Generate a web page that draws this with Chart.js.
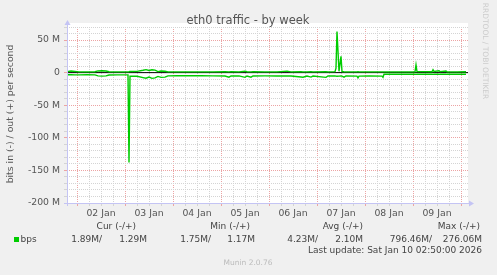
<!DOCTYPE html>
<html lang="en">
<head>
<meta charset="UTF-8">
<title>eth0 traffic - by week</title>
<style>
  html, body { margin: 0; padding: 0; background: #f0f0f0; }
  canvas { display: block; }
</style>
</head>
<body>
<canvas id="chart" width="497" height="275"></canvas>
<script src="https://cdn.jsdelivr.net/npm/chart.js"></script>
<script>
// hours counted from 01 Jan 00:00, values in M bits per second
var hours = [19, 21, 23, 25, 29, 33, 34.5, 36.5, 38.5, 40, 44, 49.5, 50, 50.5, 54,
  57, 58.5, 60, 61.5, 63, 64.5, 66, 68, 69.5, 74, 80, 86, 92, 98, 100, 101, 105,
  108, 109, 111, 112, 118, 124, 129, 131, 136, 137, 139, 141, 142, 148.5, 149.5,
  153, 153.5, 154, 155, 156, 156.5, 157.5, 158.5, 164, 164.5, 165, 170, 176.5,
  177, 177.5, 184, 190, 193, 193.5, 194, 198, 201.5, 202, 202.5, 205, 205.5,
  208.5, 209, 214, 218.5];
var outM = [1.6, 2.6, 2.0, 1.1, 1.2, 1.3, 2.6, 2.9, 2.4, 1.3, 1.2, 1.2, 1.3, 1.8, 1.9,
  3.6, 4.6, 3.2, 4.4, 3.8, 1.6, 2.5, 2.1, 1.2, 1.1, 1.2, 1.1, 1.2, 1.3, 1.2, 1.3, 1.2,
  2.2, 1.3, 1.2, 1.3, 1.2, 1.1, 2.3, 1.2, 1.3, 1.2, 1.2, 1.3, 1.2, 1.3, 1.2,
  1.5, 7, 63, 2.0, 25, 1.6, 1.3, 1.2, 1.2, 1.3, 1.2, 1.2, 1.2,
  1.2, 1.2, 1.1, 1.2, 1.3, 12, 1.5, 1.6, 1.4, 4.5, 1.8, 2.8, 1.6,
  2.5, 1.4, 1.2, 1.3];
var inM = [-3.2, -3.3, -3.4, -3.4, -3.3, -3.5, -5.0, -5.3, -4.9, -3.6, -3.4, -3.4, -138, -5.6, -5.5,
  -7.6, -8.6, -6.8, -8.8, -8.0, -5.8, -7.3, -6.9, -5.0, -4.8, -4.9, -4.8, -5.0, -5.1, -6.9, -5.1, -5.0,
  -7.2, -5.2, -7.0, -5.1, -5.0, -5.2, -5.0, -5.1, -6.6, -7.0, -5.3, -6.8, -5.2, -7.2, -5.2,
  -5.2, -5.3, -5.5, -5.3, -5.2, -5.4, -7.0, -5.2, -5.3, -8.0, -5.3, -5.2, -5.3,
  -7.2, -2.6, -2.6, -2.5, -2.6, -2.7, -2.6, -2.6, -2.6, -2.7, -2.6, -2.5, -2.6,
  -2.6, -2.5, -2.6, -2.6];

var dayLabels = ['02 Jan', '03 Jan', '04 Jan', '05 Jan', '06 Jan', '07 Jan', '08 Jan', '09 Jan'];
var legendHeaders = ['Cur (-/+)', 'Min (-/+)', 'Avg (-/+)', 'Max (-/+)'];
var legendIn = ['1.89M', '1.75M', '4.23M', '796.46M'];
var legendOut = ['1.29M', '1.17M', '2.10M', '276.06M'];

var GREEN = '#00cc00';
var FONT = 'DejaVu Sans';
var RED_GRID = '#eca4a4';
var GRAY_GRID = '#d4d4d4';
var AXIS = '#c4c4f4';

function pts(ys) {
  return hours.map(function (h, i) { return { x: h, y: ys[i] }; });
}

var munin = {
  id: 'munin',
  beforeDraw: function (chart) {
    var c = chart.ctx, a = chart.chartArea;
    c.save();
    c.fillStyle = '#f0f0f0';
    c.fillRect(0, 0, chart.width, chart.height);
    c.fillStyle = '#ffffff';
    c.fillRect(a.left, a.top - 4, a.right - a.left, a.bottom - a.top + 4);
    c.restore();
  },
  afterDraw: function (chart) {
    var c = chart.ctx, a = chart.chartArea;
    c.save();
    // solid axis lines with arrows
    c.strokeStyle = AXIS;
    c.lineWidth = 1;
    c.beginPath();
    c.moveTo(a.left + 0.5, a.top - 3); c.lineTo(a.left + 0.5, a.bottom + 3);
    c.moveTo(a.left - 3, a.bottom + 0.5); c.lineTo(a.right + 2, a.bottom + 0.5);
    c.stroke();
    c.fillStyle = AXIS;
    c.beginPath();
    c.moveTo(a.left + 0.5, a.top - 7); c.lineTo(a.left - 2.5, a.top - 2); c.lineTo(a.left + 3.5, a.top - 2);
    c.fill();
    c.beginPath();
    c.moveTo(a.right + 6, a.bottom + 0.5); c.lineTo(a.right + 1, a.bottom - 2.5); c.lineTo(a.right + 1, a.bottom + 3.5);
    c.fill();

    c.fillStyle = '#555';
    c.textBaseline = 'middle';
    c.font = '11.5px "' + FONT + '"';
    c.textAlign = 'center';
    c.fillText('eth0 traffic - by week', 248, 21);

    c.font = '9.3px "' + FONT + '"';
    c.save();
    c.translate(11, 114);
    c.rotate(-Math.PI / 2);
    c.fillText('bits in (-) / out (+) per second', 0, 0);
    c.restore();

    c.font = '9px "' + FONT + '"';
    var hdrX = [136, 250, 363, 480];
    var inX = [102, 211, 318, 432];
    var outX = [147, 255, 363, 482];
    c.textAlign = 'right';
    c.fillStyle = '#444';
    for (var i = 0; i < 4; i++) {
      c.fillText(legendHeaders[i], hdrX[i], 227);
      c.fillText(legendIn[i] + '/', inX[i], 239.5);
      c.fillText(legendOut[i], outX[i], 239.5);
    }
    c.fillText('Last update: Sat Jan 10 02:50:00 2026', 482, 251);
    c.textAlign = 'left';
    c.fillText('bps', 20.5, 239.5);
    c.fillStyle = GREEN;
    c.fillRect(14, 237, 5, 5);

    c.fillStyle = '#bbb';
    c.textAlign = 'center';
    c.font = '7.5px "' + FONT + '"';
    c.fillText('Munin 2.0.76', 248, 263);

    c.fillStyle = '#ccc';
    c.save();
    c.translate(485, 51);
    c.rotate(Math.PI / 2);
    c.fillText('RRDTOOL / TOBI OETIKER', 0, 0);
    c.restore();
    c.restore();
  }
};

new Chart(document.getElementById('chart'), {
  type: 'line',
  data: {
    datasets: [
      { label: 'out', data: pts(outM), borderColor: GREEN, borderWidth: 1.4, pointRadius: 0, tension: 0, order: 1 },
      { label: 'in', data: pts(inM), borderColor: GREEN, borderWidth: 1.4, pointRadius: 0, tension: 0, order: 1 },
      { label: 'zero', data: [{ x: 19, y: 0 }, { x: 219.5, y: 0 }], borderColor: '#000', borderWidth: 1, pointRadius: 0, order: 2 }
    ]
  },
  options: {
    responsive: false,
    animation: false,
    layout: { padding: { left: 0, top: 27, right: 29, bottom: 0 } },
    plugins: { legend: { display: false }, tooltip: { enabled: false }, title: { display: false } },
    scales: {
      x: {
        type: 'linear',
        min: 19,
        max: 219.5,
        afterFit: function (s) { s.height = 72; },
        afterBuildTicks: function (s) {
          var t = [];
          for (var h = 24; h <= 216; h += 6) t.push({ value: h });
          s.ticks = t;
        },
        ticks: {
          autoSkip: false,
          maxRotation: 0,
          padding: 2,
          color: '#555',
          font: { family: FONT, size: 9.3 },
          callback: function (v) {
            return (v % 24 === 12) ? dayLabels[(v - 36) / 24] : '';
          }
        },
        grid: {
          color: function (ctx) { return ctx.tick && ctx.tick.value % 24 === 0 ? RED_GRID : GRAY_GRID; },
          lineWidth: 1,
          tickLength: 3
        },
        border: { display: false, dash: [1, 1] }
      },
      y: {
        type: 'linear',
        min: -200,
        max: 70,
        afterFit: function (s) { s.width = 67; },
        ticks: {
          stepSize: 10,
          autoSkip: false,
          padding: 4,
          color: '#555',
          font: { family: FONT, size: 9.3 },
          callback: function (v) {
            if (v % 50 !== 0) return '';
            return v === 0 ? '0' : v + ' M';
          }
        },
        grid: {
          color: function (ctx) { return ctx.tick && ctx.tick.value % 50 === 0 ? RED_GRID : GRAY_GRID; },
          lineWidth: 1,
          tickLength: 3
        },
        border: { display: false, dash: [1, 1] }
      }
    }
  },
  plugins: [munin]
});
</script>
</body>
</html>
